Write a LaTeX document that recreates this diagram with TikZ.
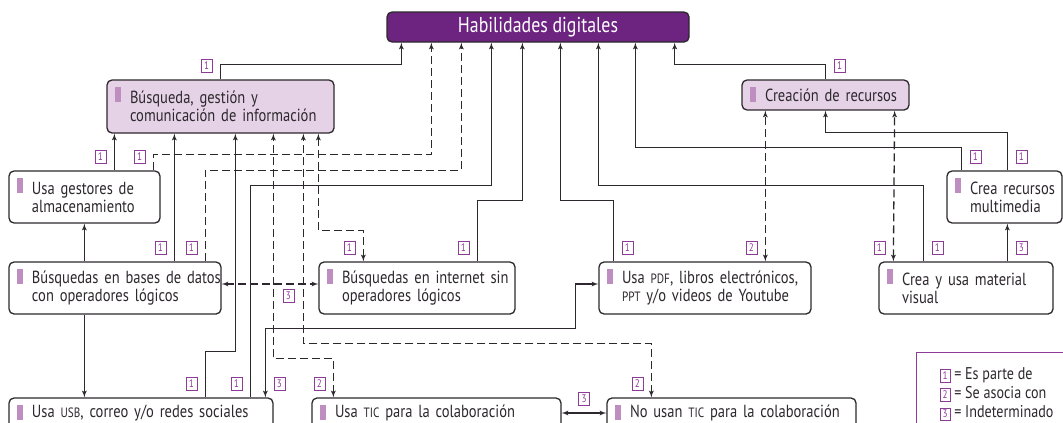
\documentclass[tikz,border=0pt]{standalone}
\usepackage{fontspec}
\setmainfont{PT Sans}[FakeStretch=0.83]
\usetikzlibrary{shapes,arrows}
\definecolor{habc}{RGB}{108,36,128}
\definecolor{catc}{RGB}{230,210,230}
\definecolor{barc}{RGB}{190,142,192}
\definecolor{tagc}{RGB}{140,60,150}
\definecolor{linec}{RGB}{45,40,45}
\newcommand{\acr}[1]{{\fontsize{13.5}{13.5}\selectfont #1}}
\newcommand{\tg}[1]{{\setlength\fboxsep{1.5pt}\setlength\fboxrule{0.6pt}%
    \fcolorbox{tagc}{white}{\makebox[6.5pt]{\rule[-1.5pt]{0pt}{9pt}%
    \textcolor{tagc}{\fontsize{11}{11}\selectfont #1}}}}}
\tikzstyle{block} = [draw=linec, rounded corners=5pt, fill=white, line width=1.3pt,
    inner xsep=0pt, inner ysep=0pt, minimum height=52pt, align=left,
    font=\fontsize{17.5}{18}\selectfont,
    execute at begin node={\leftskip=23pt\rightskip=-60pt plus 1fil},
    path picture={\fill[barc, sharp corners]
        ([xshift=8pt,yshift=-7pt]path picture bounding box.north west)
        rectangle ++(6pt,-15pt);}]
\tikzstyle{cat} = [block, fill=catc]
\tikzstyle{root} = [draw=linec, rounded corners=5pt, fill=habc, line width=1.3pt,
    minimum width=302pt, minimum height=30pt, inner sep=0pt, text=white,
    font=\fontsize{21.5}{22}\selectfont]
\tikzstyle{tag} = [draw=tagc, fill=white, text=tagc, solid, line width=0.6pt,
    inner sep=0pt, minimum width=11pt, minimum height=13pt,
    font=\fontsize{11}{11}\selectfont]
\tikzstyle{tagl} = [tag, xshift=-14pt, yshift=14pt]
\tikzstyle{tagr} = [tag, xshift=14pt, yshift=14pt]
\tikzstyle{assoc} = [dash pattern=on 8pt off 4pt]

\begin{document}
\begin{tikzpicture}[x=1pt, y=1pt, >=latex', line width=1.3pt, color=linec]
    \useasboundingbox (0,0) rectangle (1063,-423);
    \clip (0,0) rectangle (1063,-423);
    % We start by placing the blocks
    \node [root] (hab) at (538,-27) {Habilidades digitales};
    \node [cat, text width=227pt, minimum height=53pt] (busq) at (220.5,-106.5)
        {Búsqueda, gestión y\\comunicación de información};
    \node [cat, text width=167pt, minimum height=30pt] (crea) at (825.5,-95)
        {Creación de recursos};
    \node [block, text width=151pt] (gest) at (84.5,-197)
        {Usa gestores de\\almacenamiento};
    \node [block, text width=115pt] (multi) at (1004.5,-197)
        {Crea recursos\\multimedia};
    \node [block, text width=212pt] (bases) at (115,-288)
        {Búsquedas en bases de datos\\con operadores lógicos};
    \node [block, text width=196pt, right of=bases, node distance=302pt] (inet)
        {Búsquedas en internet sin\\operadores lógicos};
    \node [block, text width=212pt, right of=inet, node distance=288pt] (pdf)
        {Usa \acr{PDF}, libros electrónicos,\\\acr{PPT} y/o videos de Youtube};
    \node [block, text width=174pt, right of=pdf, node distance=261pt] (visual)
        {Crea y usa material\\visual};
    \node [block, text width=264pt, minimum height=30pt] (usb) at (141,-413)
        {Usa \acr{USB}, correo y/o redes sociales};
    \node [block, text width=249pt, minimum height=30pt, right of=usb,
            node distance=295.5pt] (tic) {Usa \acr{TIC} para la colaboración};
    \node [block, text width=249pt, minimum height=30pt, right of=tic,
            node distance=295pt] (nousan) {No usan \acr{TIC} para la colaboración};
    \node [draw=tagc, anchor=north west, minimum width=160pt, minimum height=83pt,
            inner xsep=17pt, align=left, font=\fontsize{17}{19}\selectfont] (legend)
        at (916,-352) {\tg{1} = Es parte de\\\tg{2} = Se asocia con\\\tg{3} = Indeterminado};

    % Links up to the top block
    \draw [->] (busq.north) node[tagl] (t1) {1} -- ++(0,15) -| ([xshift=15]hab.south west);
    \draw [->] (crea.north) node[tagr] (t2) {1} -- ++(0,15) -| ([xshift=-15]hab.south east);
    \draw [->, assoc] ([xshift=-7]gest.north east) node[tagl] (t3) {1}
        -- ++(0,16) -| ([xshift=45]hab.south west);
    \draw [->, assoc] ([xshift=197]bases.north west) node[tagl] (t4) {1}
        -- ++(0,91) -| ([xshift=75]hab.south west);
    \draw [->] ([xshift=242]usb.north west) node[tagl] (t5) {1}
        -- ++(0,212) -| ([xshift=105]hab.south west);
    \draw [->] ([xshift=159]inet.north west) node[tagl] (t6) {1}
        -- ++(0,61) -| ([xshift=136]hab.south west);
    \draw [->] ([xshift=15]pdf.north west) node[tagr] (t7) {1}
        -- ++(0,61) -| ([xshift=174]hab.south west);
    \draw [->] ([xshift=45]visual.north west) node[tagr] (t8) {1}
        -- ++(0,76) -| ([xshift=212]hab.south west);
    \draw [->] ([xshift=15]multi.north west) node[tagr] (t9) {1}
        -- ++(0,23) -| ([xshift=249]hab.south west);

    % Links up to the two categories
    \draw [->] ([xshift=106]gest.north west) node[tagl] (t10) {1} -- ([xshift=8]busq.south west);
    \draw [->] ([xshift=166]bases.north west) node[tagl] (t11) {1} -- ([xshift=68]busq.south west);
    \draw [->] ([xshift=197]usb.north west) node[tagl] (t12) {1}
        -- ++(0,46) -| ([xshift=129]busq.south west);
    \draw [<->, assoc] ([xshift=22]tic.north west) node[tagl] (t13) {2}
        -- ++(0,39) -| ([xshift=167]busq.south west);
    \draw [<->, assoc] ([xshift=45]nousan.north west) node[tagl] (t14) {2}
        -- ++(0,54) -| ([xshift=197]busq.south west);
    \draw [<->, assoc] ([xshift=45]inet.north west) node[tagl] (t15) {1}
        -- ++(0,31) -| ([xshift=212]busq.south west);
    \draw [->] ([xshift=61]multi.north west) node[tagr] (t16) {1} -- ++(0,38) -| (crea.south);
    \draw [<->, assoc] ([xshift=167]pdf.north west) node[tagl] (t17) {2} -- ([xshift=24]crea.south west);
    \draw [<->, assoc] ([xshift=15]visual.north west) node[tagl] (t18) {1} -- ([xshift=-15]crea.south east);

    % Links between the lower blocks
    \draw [->] ([xshift=76]bases.north west) -- ([xshift=76]gest.south west);
    \draw [->] ([xshift=76]bases.south west) -- ([xshift=76]usb.north west);
    \draw [<->, assoc] ([yshift=4]bases.east) -- node[tag, pos=0.69, below=5pt] (t19) {3}
        ([yshift=4]inet.west);
    \draw [->] ([xshift=129]visual.north west) node[tagr] (t20) {3} -- ([xshift=61]multi.south west);
    \draw [<->] ([xshift=257]usb.north west) node[tagr] (t21) {3}
        -- ++(0,69) -| ([xshift=-23,yshift=4]pdf.west) -- ([yshift=4]pdf.west);
    \draw [<->] (tic.east) -- node[tag, above=7pt] (t22) {3} (nousan.west);
\end{tikzpicture}
\end{document}
